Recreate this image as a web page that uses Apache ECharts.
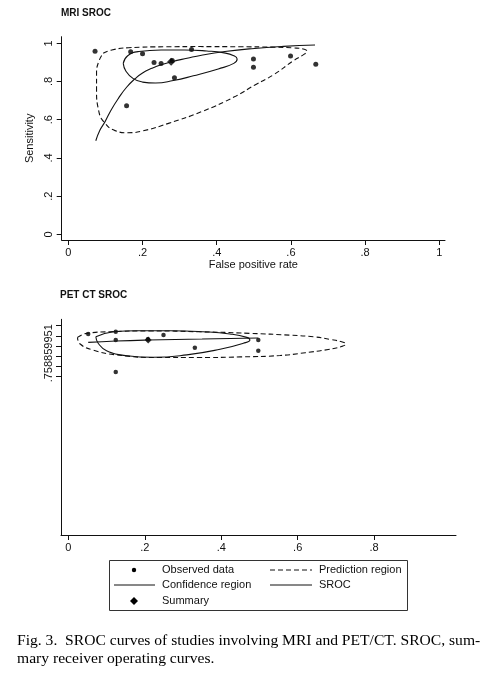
<!DOCTYPE html>
<html>
<head>
<meta charset="utf-8">
<script src="https://cdn.jsdelivr.net/npm/echarts@6/dist/echarts.min.js"></script>
<style>
  html, body { margin: 0; padding: 0; background: #fff; }
  #chart { width: 493px; height: 680px; }
</style>
</head>
<body>
<div id="chart"></div>
<script>
'use strict';

// MRI SROC: [false positive rate, sensitivity]
const mriObserved = [
    [0.072, 0.958], [0.168, 0.956], [0.200, 0.945], [0.231, 0.900], [0.250, 0.895],
    [0.280, 0.910], [0.286, 0.820], [0.332, 0.968], [0.157, 0.673], [0.499, 0.918],
    [0.499, 0.875], [0.599, 0.934], [0.667, 0.890]
];
const mriSummary = [[0.277, 0.903]];
const mriSroc = [
    [0.074, 0.490], [0.085, 0.545], [0.099, 0.590], [0.115, 0.650], [0.135, 0.712],
    [0.157, 0.770], [0.180, 0.815], [0.200, 0.845], [0.225, 0.869], [0.250, 0.888],
    [0.279, 0.904], [0.320, 0.922], [0.359, 0.938], [0.422, 0.957], [0.494, 0.972],
    [0.580, 0.984], [0.665, 0.991]
];
const mriConfidence = [
    [0.148, 0.895], [0.160, 0.935], [0.190, 0.957], [0.250, 0.965], [0.314, 0.965],
    [0.373, 0.960], [0.420, 0.950], [0.446, 0.935], [0.455, 0.918], [0.446, 0.895],
    [0.404, 0.866], [0.337, 0.830], [0.283, 0.805], [0.235, 0.792], [0.200, 0.797],
    [0.175, 0.815], [0.155, 0.855], [0.148, 0.895]
];
const mriPrediction = [
    [0.094, 0.948], [0.117, 0.965], [0.162, 0.977], [0.265, 0.982], [0.355, 0.983],
    [0.463, 0.982], [0.550, 0.980], [0.606, 0.976], [0.636, 0.969], [0.643, 0.958],
    [0.635, 0.942], [0.606, 0.908], [0.552, 0.834], [0.503, 0.782], [0.449, 0.721],
    [0.359, 0.642], [0.270, 0.581], [0.202, 0.542], [0.160, 0.532], [0.126, 0.543],
    [0.099, 0.581], [0.082, 0.645], [0.076, 0.760], [0.076, 0.843], [0.082, 0.905],
    [0.094, 0.948]
];
const mriXTicks = [0, 0.2, 0.4, 0.6, 0.8, 1];
const mriYTicks = [0, 0.2, 0.4, 0.6, 0.8, 1];

// PET CT SROC
const petObserved = [
    [0.052, 0.959], [0.124, 0.970], [0.124, 0.929], [0.124, 0.770], [0.208, 0.933],
    [0.249, 0.954], [0.331, 0.891], [0.497, 0.929], [0.497, 0.876]
];
const petSummary = [[0.209, 0.929]];
const petSroc = [
    [0.052, 0.917], [0.124, 0.924], [0.209, 0.929], [0.350, 0.934], [0.497, 0.939]
];
const petConfidence = [
    [0.072, 0.945], [0.118, 0.970], [0.179, 0.975], [0.266, 0.975], [0.353, 0.970],
    [0.423, 0.959], [0.467, 0.942], [0.475, 0.929], [0.458, 0.913], [0.397, 0.883],
    [0.310, 0.855], [0.222, 0.843], [0.153, 0.851], [0.100, 0.876], [0.078, 0.913],
    [0.072, 0.945]
];
const petPrediction = [
    [0.024, 0.942], [0.048, 0.962], [0.109, 0.970], [0.214, 0.974], [0.345, 0.970],
    [0.475, 0.962], [0.580, 0.953], [0.641, 0.945], [0.685, 0.932], [0.715, 0.920],
    [0.726, 0.909], [0.715, 0.897], [0.680, 0.882], [0.620, 0.866], [0.554, 0.852],
    [0.450, 0.845], [0.340, 0.842], [0.240, 0.842], [0.126, 0.855], [0.065, 0.879],
    [0.031, 0.909], [0.024, 0.942]
];
const petXTicks = [0, 0.2, 0.4, 0.6, 0.8];
const petYTicks = [0.75, 0.8, 0.85, 0.9, 0.95, 1];
const petYLabelAt = [0.863];
const petYLabel = '.758859951';

const caption = 'Fig. 3.  SROC curves of studies involving MRI and PET/CT. SROC, sum-\nmary receiver operating curves.';

const sans = 'Liberation Sans, Arial, sans-serif';
const ink = '#111';

function tickText(v) {
    if (v === 0) return '0';
    if (v === 1) return '1';
    return String(+v.toFixed(2)).replace(/^0/, '');
}

function xAxisFor(gridIndex, min, max, ticks, name) {
    return {
        type: 'value', gridIndex, min, max, name,
        nameLocation: 'middle', nameGap: 19,
        nameTextStyle: { fontFamily: sans, fontSize: 11, color: ink },
        axisLine: { onZero: false, lineStyle: { color: ink, width: 1 } },
        axisTick: { customValues: ticks, length: 5, lineStyle: { color: ink } },
        axisLabel: { customValues: ticks, formatter: tickText, margin: 7,
                     fontFamily: sans, fontSize: 11, color: ink },
        splitLine: { show: false }
    };
}

function yAxisFor(gridIndex, min, max, ticks, labelAt, formatter, name) {
    return {
        type: 'value', gridIndex, min, max, name,
        nameLocation: 'middle', nameGap: 21,
        nameTextStyle: { fontFamily: sans, fontSize: 11, color: ink },
        axisLine: { onZero: false, lineStyle: { color: ink, width: 1 } },
        axisTick: { customValues: ticks, length: 5, lineStyle: { color: ink } },
        axisLabel: { customValues: labelAt, formatter, rotate: 90, margin: 7,
                     fontFamily: sans, fontSize: 11, color: ink },
        splitLine: { show: false }
    };
}

function regionSeries(idx, data, dashed) {
    return {
        type: 'line', xAxisIndex: idx, yAxisIndex: idx, data,
        smooth: 0.5, symbol: 'none', silent: true,
        lineStyle: { color: ink, width: 1.1, type: dashed ? [5, 3] : 'solid' }
    };
}

function pointSeries(idx, data, symbol, size) {
    return {
        type: 'scatter', xAxisIndex: idx, yAxisIndex: idx, data,
        symbol, symbolSize: size, itemStyle: { color: '#000' }
    };
}

// legend drawn as a boxed key like the Stata output
const keyRows = [570, 585, 601];
const keyGraphic = [
    { type: 'rect', shape: { x: 109.5, y: 560.5, width: 298, height: 50 },
      style: { fill: 'none', stroke: '#333', lineWidth: 1 } },
    { type: 'circle', shape: { cx: 134, cy: keyRows[0], r: 2.2 }, style: { fill: '#000' } },
    { type: 'line', shape: { x1: 114, y1: keyRows[1], x2: 155, y2: keyRows[1] },
      style: { stroke: ink, lineWidth: 1 } },
    { type: 'polygon', shape: { points: [[134, keyRows[2] - 4], [138, keyRows[2]], [134, keyRows[2] + 4], [130, keyRows[2]]] },
      style: { fill: '#000' } },
    { type: 'line', shape: { x1: 270, y1: keyRows[0], x2: 312, y2: keyRows[0] },
      style: { stroke: ink, lineWidth: 1, lineDash: [5, 3] } },
    { type: 'line', shape: { x1: 270, y1: keyRows[1], x2: 312, y2: keyRows[1] },
      style: { stroke: ink, lineWidth: 1 } }
].concat([
    ['Observed data', 162, keyRows[0]], ['Confidence region', 162, keyRows[1]],
    ['Summary', 162, keyRows[2]], ['Prediction region', 319, keyRows[0]], ['SROC', 319, keyRows[1]]
].map(([text, x, y]) => ({
    type: 'text', x, y,
    style: { text, fontFamily: sans, fontSize: 11, fill: ink, verticalAlign: 'middle' }
})));

const option = {
    animation: false,
    backgroundColor: '#fff',
    title: [
        { text: 'MRI SROC', left: 56, top: 3,
          textStyle: { fontFamily: sans, fontSize: 10, fontWeight: 'bold', color: ink } },
        { text: 'PET CT SROC', left: 55, top: 285,
          textStyle: { fontFamily: sans, fontSize: 10, fontWeight: 'bold', color: ink } },
        { text: caption, left: 12, top: 627,
          textStyle: { fontFamily: 'Liberation Serif, Times New Roman, serif', fontSize: 15.6,
                       fontWeight: 'normal', color: '#000', lineHeight: 18 } }
    ],
    grid: [
        { left: 61.7, top: 36.7, width: 383.3, height: 203.3 },
        { left: 61, top: 319.3, width: 395, height: 215.7 }
    ],
    xAxis: [
        xAxisFor(0, -0.0179, 1.0153, mriXTicks, 'False positive rate'),
        xAxisFor(1, -0.0192, 1.0143, petXTicks, '')
    ],
    yAxis: [
        yAxisFor(0, -0.0297, 1.0347, mriYTicks, mriYTicks, tickText, 'Sensitivity'),
        yAxisFor(1, -0.0392, 1.0318, petYTicks, petYLabelAt, () => petYLabel, '')
    ],
    series: [
        regionSeries(0, mriPrediction, true),
        regionSeries(0, mriConfidence, false),
        regionSeries(0, mriSroc, false),
        pointSeries(0, mriObserved, 'circle', 5),
        pointSeries(0, mriSummary, 'diamond', 8),
        regionSeries(1, petPrediction, true),
        regionSeries(1, petConfidence, false),
        regionSeries(1, petSroc, false),
        pointSeries(1, petObserved, 'circle', 4.5),
        pointSeries(1, petSummary, 'diamond', 7)
    ],
    graphic: keyGraphic
};

const myChart = echarts.init(document.getElementById('chart'));
myChart.setOption(option);
</script>
</body>
</html>
